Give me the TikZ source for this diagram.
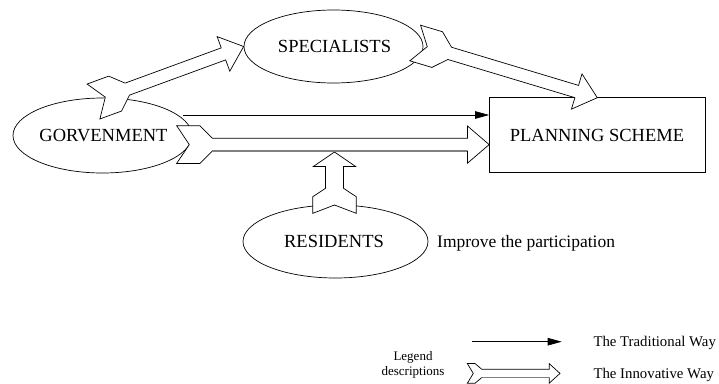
\documentclass[tikz,border=0pt]{standalone}
\usepackage{fontspec}
\setmainfont{Liberation Serif}
\usetikzlibrary{shapes.geometric,calc,arrows.meta}
\newcommand\innovparams[7]{\def\iW{#1}\def\iN{#2}\def\iT{#3}\def\iS{#4}\def\iw{#5}\def\iL{#6}\def\iH{#7}}
\newcommand\innovarrow[3][draw=none]{%
  \coordinate (ia) at (#2);
  \coordinate (ib) at (#3);
  \coordinate (it) at ($(ia)!\iT!(ib)$);
  \coordinate (is) at ($(ia)!\iS!(ib)$);
  \coordinate (ih) at ($(ib)!\iL!(ia)$);
  \draw[innov] ($(ia)!\iW!90:(ib)$) -- ($(it)!\iW!90:(ib)$) -- ($(is)!\iw!90:(ib)$)
    -- ($(ih)!\iw!-90:(ia)$) -- ($(ih)!\iH!-90:(ia)$) -- (ib)
    -- ($(ih)!\iH!90:(ia)$) -- ($(ih)!\iw!90:(ia)$) -- ($(is)!\iw!-90:(ib)$)
    -- ($(it)!\iW!-90:(ib)$) -- ($(ia)!\iW!-90:(ib)$) -- ($(ia)!\iN!(ib)$) -- cycle;
  \draw[#1] ($(is)!\iw!-90:(ib)$) -- ($(ih)!\iw!90:(ia)$);
}
\tikzset{
  ell/.style={draw, ellipse, line width=0.7pt, inner sep=0pt},
  box/.style={draw, rectangle, line width=0.7pt, inner sep=0pt},
  lab/.style={inner sep=0pt, font=\fontsize{18.5}{22}\selectfont},
  note/.style={inner sep=0pt, font=\fontsize{17.5}{21}\selectfont},
  legt/.style={inner sep=0pt, font=\fontsize{14.8}{17}\selectfont},
  legd/.style={inner sep=0pt, font=\fontsize{13}{15}\selectfont},
  innov/.style={draw, fill=white, line width=0.7pt, line join=miter},
  grayedge/.style={draw=gray, line width=1.4pt},
  trad/.style={line width=0.7pt, -{Triangle[length=14pt,width=7.5pt]}},
}
\begin{document}
\begin{tikzpicture}[x=1pt, y=-1pt]
\useasboundingbox (0,0) rectangle (719,383);
% nodes
\node[ell, minimum width=179pt, minimum height=75pt] (gov) at (102.5,135.5) {};
\node[lab] (govt) at (103.5,135.5) {GORVENMENT};
\node[ell, minimum width=179pt, minimum height=73pt] (spec) at (333.5,46.5) {};
\node[lab] (spect) at (334.5,46.5) {SPECIALISTS};
\node[ell, minimum width=185pt, minimum height=73pt] (res) at (335.5,241.5) {};
\node[lab] (rest) at (334,241.5) {RESIDENTS};
\node[box, minimum width=215.5pt, minimum height=75pt] (plan) at (597.25,135.2) {};
\node[lab] (plant) at (597,135.2) {PLANNING SCHEME};
\node[note, anchor=base west] (imp) at (437,247) {Improve the participation};
% connector end points
\coordinate (t1) at (183,115);
\coordinate (g1) at (93.5,101.5);
\coordinate (s1) at (415.2,43);
\coordinate (p1) at (597.3,97.7);
\coordinate (g2) at (176.7,144.6);
\coordinate (r1) at (334.5,213.3);
\coordinate (h1) at (334.5,152);
% traditional way
\draw[trad] (t1) -- (t1 -| plan.west);
% innovative ways
\innovparams{18.6pt}{12.6pt}{23pt}{36pt}{6.4pt}{21.5pt}{18.4pt}
\innovarrow{g1}{spec.west}
\innovarrow{s1}{p1}
\innovparams{21.7pt}{8.3pt}{16.6pt}{25pt}{9pt}{14.4pt}{21pt}
\innovarrow{r1}{h1}
\innovparams{18.8pt}{12.6pt}{23.3pt}{35.6pt}{6.4pt}{21.7pt}{18.6pt}
\innovarrow[grayedge]{g2}{g2 -| plan.west}
% legend
\coordinate (la) at (471.7,341.7);
\coordinate (lb) at (561.7,341.7);
\draw[trad] (la) -- (lb);
\coordinate (lc) at (467.3,373.4);
\coordinate (ld) at (560,373.4);
\innovparams{9.9pt}{6pt}{7.7pt}{14.4pt}{4.2pt}{10.7pt}{9.7pt}
\innovarrow[grayedge]{lc}{ld}
\node[legt, anchor=base west] (ltrad) at (593.3,346.3) {The Traditional Way};
\node[legt, anchor=base west] (linno) at (593.3,378) {The Innovative Way};
\node[legd, anchor=base] (lg1) at (413,360) {Legend};
\node[legd, anchor=base] (lg2) at (413,375) {descriptions};
\end{tikzpicture}
\end{document}
